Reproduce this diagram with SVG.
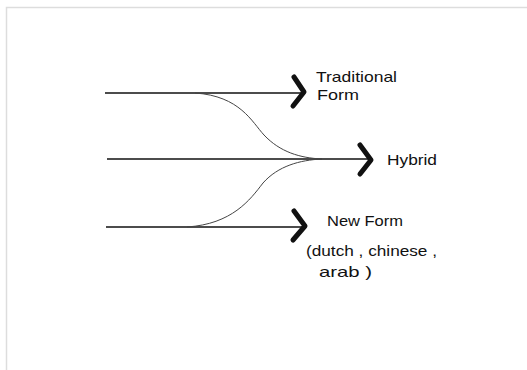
<svg xmlns="http://www.w3.org/2000/svg" width="527" height="370" viewBox="0 0 527 370">
<style>
.line{fill:none;stroke:#111;stroke-width:1.4}
.curve{fill:none;stroke:#444;stroke-width:1}
.chev{fill:none;stroke:#111;stroke-width:5;stroke-linecap:round;stroke-linejoin:round}
.lbl{font-family:"Comic Sans MS","Liberation Sans",sans-serif;font-size:15px;fill:#111}
</style>
<rect width="527" height="370" fill="#fff"/>
<path d="M6.5 380 V7.5 H540" fill="none" stroke="#ddd" stroke-width="1.5"/>
<g id="connectors">
<line class="line" x1="105" y1="93" x2="302" y2="93"/>
<line class="line" x1="107" y1="159" x2="370" y2="159"/>
<line class="line" x1="106" y1="227" x2="302" y2="227"/>
<path class="curve" d="M195 93 C240 96 252 122 264 135 C280 152 300 158 322 159"/>
<path class="curve" d="M187 227 C232 224 250 200 263 183 C278 166 300 160 322 159"/>
</g>
<g id="traditional">
<path class="chev" d="M294 77 L304 92 L293 106"/>
<text class="lbl" x="316" y="82" textLength="81" lengthAdjust="spacingAndGlyphs">Traditional</text>
<text class="lbl" x="317" y="100" textLength="42" lengthAdjust="spacingAndGlyphs">Form</text>
</g>
<g id="hybrid">
<path class="chev" d="M360 145 L371 160 L360 174"/>
<text class="lbl" x="387" y="165" textLength="50" lengthAdjust="spacingAndGlyphs">Hybrid</text>
</g>
<g id="newform">
<path class="chev" d="M294 211 L305 226 L293 240"/>
<text class="lbl" x="327" y="226" textLength="76" lengthAdjust="spacingAndGlyphs">New Form</text>
<text class="lbl" x="306" y="256" textLength="131" lengthAdjust="spacingAndGlyphs">(dutch , chinese ,</text>
<text class="lbl" x="319" y="277" textLength="53" lengthAdjust="spacingAndGlyphs">arab )</text>
</g>
</svg>
